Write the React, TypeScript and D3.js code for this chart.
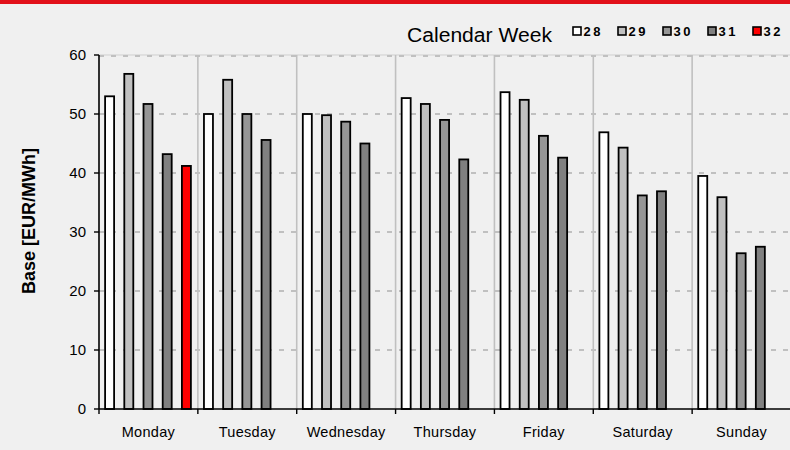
import React from "react";
import * as d3 from "d3";

const days = ["Monday", "Tuesday", "Wednesday", "Thursday", "Friday", "Saturday", "Sunday"];
const weeks = ["28", "29", "30", "31", "32"];
const week28 = [53.0, 50.0, 50.0, 52.7, 53.7, 46.9, 39.5];
const week29 = [56.8, 55.8, 49.8, 51.7, 52.4, 44.3, 35.9];
const week30 = [51.7, 50.0, 48.7, 49.0, 46.3, 36.2, 26.4];
const week31 = [43.2, 45.6, 45.0, 42.3, 42.6, 36.9, 27.5];
const week32 = [41.2, null, null, null, null, null, null];
const yTicks = [0, 10, 20, 30, 40, 50, 60];
const weekColors = ["#ffffff", "#c0c0c0", "#969696", "#808080", "#ff0000"];

const W = 790;
const H = 450;
const FONT = "'Liberation Sans', Arial, Helvetica, sans-serif";

export default function App() {
  const series = [week28, week29, week30, week31, week32];
  const x0 = d3.scaleBand<string>().domain(days).range([99, 791]).padding(0);
  const x1 = d3.scaleBand<string>().domain(weeks).range([1, 97]).padding(0);
  const y = d3.scaleLinear().domain([0, 60]).range([409, 55]);
  const color = d3.scaleOrdinal<string, string>().domain(weeks).range(weekColors);
  const barW = 9;
  const bounds = days.map((d) => x0(d)!).concat([x0.range()[1]]);

  return (
    <svg
      width={W}
      height={H}
      style={{ position: "fixed", left: 0, top: 0, background: "#f0f0f0" }}
      fontFamily={FONT}
    >
      <rect x={0} y={0} width={W} height={H} fill="#f0f0f0" />
      <rect x={0} y={0} width={W} height={4} fill="#e2101a" />

      {/* horizontal gridlines */}
      <line x1={99} x2={W} y1={y(60)} y2={y(60)} stroke="#cfcfcf" strokeWidth={1} />
      {yTicks.filter((t) => t > 0).map((t) => (
        <line
          key={"g" + t}
          x1={99}
          x2={W}
          y1={y(t) + (t === 60 ? 1 : 0)}
          y2={y(t) + (t === 60 ? 1 : 0)}
          stroke="#c0c0c0"
          strokeWidth={2}
          strokeDasharray="5 7"
        />
      ))}
      {/* vertical separators */}
      {bounds.slice(1).map((b, i) => (
        <line key={"v" + i} x1={b} x2={b} y1={y(60)} y2={y(0)} stroke="#c0c0c0" strokeWidth={1.6} />
      ))}

      {/* bars */}
      {days.map((d, di) => (
        <g key={d} transform={`translate(${x0(d)},0)`}>
          {weeks.map((w, wi) => {
            const v = series[wi][di];
            if (v === null || v === undefined) return null;
            const cx = x1(w)! + x1.bandwidth() / 2;
            return (
              <rect
                key={w}
                x={cx - barW / 2}
                y={y(v)}
                width={barW}
                height={y(0) - y(v)}
                fill={color(w)}
                stroke="#000"
                strokeWidth={1.8}
              />
            );
          })}
        </g>
      ))}

      {/* axes */}
      <line x1={99} x2={99} y1={y(60)} y2={y(0)} stroke="#000" strokeWidth={1.6} />
      <line x1={99} x2={W} y1={y(0)} y2={y(0)} stroke="#000" strokeWidth={1.6} />
      {yTicks.map((t) => (
        <g key={"yt" + t}>
          <line x1={94} x2={99} y1={y(t)} y2={y(t)} stroke="#000" strokeWidth={1.4} />
          <text x={86} y={y(t)} dy="0.36em" textAnchor="end" fontSize={15} fill="#000">
            {t}
          </text>
        </g>
      ))}
      {bounds.map((b, i) => (
        <line key={"xt" + i} x1={b} x2={b} y1={y(0)} y2={y(0) + 5} stroke="#000" strokeWidth={1.4} />
      ))}
      {days.map((d) => (
        <text
          key={"xl" + d}
          x={x0(d)! + x0.bandwidth() / 2}
          y={437}
          textAnchor="middle"
          fontSize={14.5}
          letterSpacing={0.3}
          fill="#000"
        >
          {d}
        </text>
      ))}

      {/* y axis title */}
      <text
        transform={`translate(35,221) rotate(-90)`}
        textAnchor="middle"
        fontSize={18}
        fontWeight="bold"
        fill="#000"
      >
        Base [EUR/MWh]
      </text>

      {/* legend */}
      <text x={407} y={42} fontSize={20} fill="#000" textLength={145} lengthAdjust="spacingAndGlyphs">
        Calendar Week
      </text>
      {weeks.map((w, i) => {
        const lx = 573 + i * 45;
        return (
          <g key={"lg" + w}>
            <rect x={lx} y={27} width={8} height={8} fill={color(w)} stroke="#000" strokeWidth={1.6} />
            <text x={lx + 10.5} y={35.5} fontSize={13} fontWeight="bold" letterSpacing={2.5} fill="#000">
              {w}
            </text>
          </g>
        );
      })}
    </svg>
  );
}
